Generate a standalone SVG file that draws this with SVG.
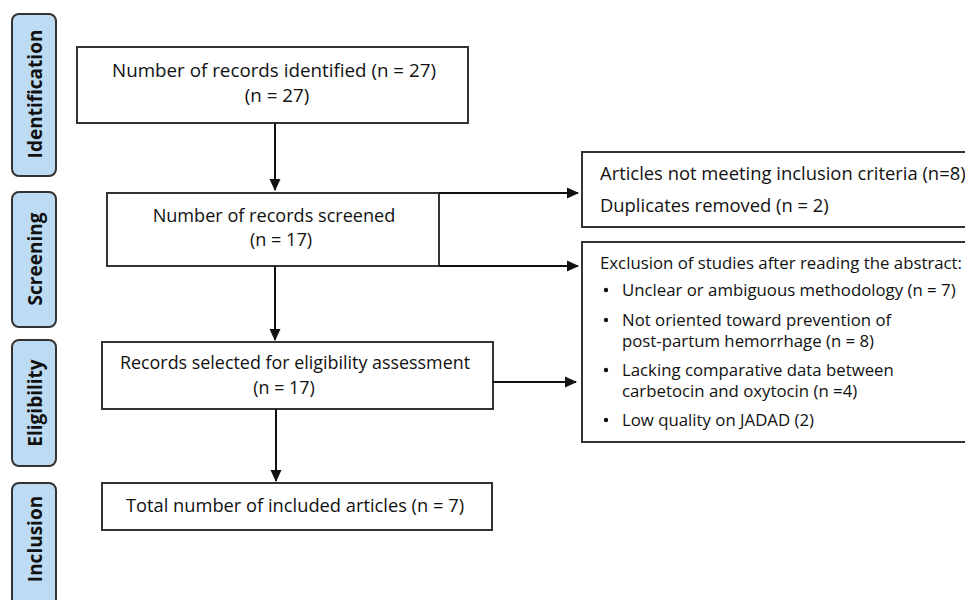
<svg xmlns="http://www.w3.org/2000/svg" width="965" height="600" viewBox="0 0 965 600">
<defs>
<marker id="ah" markerWidth="12" markerHeight="12" refX="11" refY="6" orient="auto" markerUnits="userSpaceOnUse" viewBox="0 0 12 12">
<path d="M0,0.5 L12,6 L0,11.5 z" fill="#111"/>
</marker>
<style>
.box{fill:#fff;stroke:#333;stroke-width:2}
.side{fill:#bddcf3;stroke:#333;stroke-width:2}
.t{font-family:"Open Sans","Liberation Sans",sans-serif;font-size:18.8px;fill:#111}
.r{font-family:"Open Sans","Liberation Sans",sans-serif;font-size:18.4px;fill:#111}
.s{font-family:"Open Sans","Liberation Sans",sans-serif;font-size:16.8px;fill:#111}
.lab{font-family:"Open Sans","Liberation Sans",sans-serif;font-size:19px;font-weight:bold;fill:#111}
.c{stroke:#111;stroke-width:2;fill:none}
</style>
</defs>
<rect width="965" height="600" fill="#fff"/>
<g id="label-identification">
<rect class="side" x="12" y="14" width="44" height="162" rx="7"/>
<text class="lab" transform="translate(42,94) rotate(-90)" text-anchor="middle">Identification</text>
</g>
<g id="label-screening">
<rect class="side" x="12" y="192" width="44" height="135" rx="7"/>
<text class="lab" transform="translate(42,259) rotate(-90)" text-anchor="middle">Screening</text>
</g>
<g id="label-eligibility">
<rect class="side" x="12" y="340" width="44" height="126" rx="7"/>
<text class="lab" transform="translate(42,403) rotate(-90)" text-anchor="middle">Eligibility</text>
</g>
<g id="label-inclusion">
<rect class="side" x="12" y="483" width="44" height="160" rx="7"/>
<text class="lab" transform="translate(42,539) rotate(-90)" text-anchor="middle">Inclusion</text>
</g>
<g id="identified">
<rect class="box" x="77" y="47" width="391" height="76"/>
<text class="t" x="274" y="77" text-anchor="middle">Number of records identified (n = 27)</text>
<text class="t" x="277" y="102" text-anchor="middle">(n = 27)</text>
</g>
<g id="screened">
<rect class="box" x="107" y="193" width="332" height="73"/>
<text class="t" x="274" y="222" text-anchor="middle" style="font-size:18.1px">Number of records screened</text>
<text class="t" x="281" y="246" text-anchor="middle" style="font-size:18.1px">(n = 17)</text>
</g>
<g id="eligibility">
<rect class="box" x="102" y="342" width="391" height="67"/>
<text class="t" x="295" y="369" text-anchor="middle" style="font-size:17.9px">Records selected for eligibility assessment</text>
<text class="t" x="284" y="394" text-anchor="middle" style="font-size:17.9px">(n = 17)</text>
</g>
<g id="included">
<rect class="box" x="102" y="483" width="390" height="47"/>
<text class="t" x="295" y="512" text-anchor="middle" style="font-size:18.3px">Total number of included articles (n = 7)</text>
</g>
<g id="excluded-1">
<rect class="box" x="582" y="152" width="400" height="75"/>
<text class="r" x="600" y="180">Articles not meeting inclusion criteria (n=8)</text>
<text class="r" x="600" y="212">Duplicates removed (n = 2)</text>
</g>
<g id="excluded-2">
<rect class="box" x="582" y="242" width="400" height="200"/>
<text class="s" x="600" y="269">Exclusion of studies after reading the abstract:</text>
<circle cx="606" cy="290" r="2.2" fill="#111"/>
<text class="s" x="622" y="296">Unclear or ambiguous methodology (n = 7)</text>
<circle cx="606" cy="320" r="2.2" fill="#111"/>
<text class="s" x="622" y="326">Not oriented toward prevention of</text>
<text class="s" x="622" y="347">post-partum hemorrhage (n = 8)</text>
<circle cx="606" cy="370" r="2.2" fill="#111"/>
<text class="s" x="622" y="376">Lacking comparative data between</text>
<text class="s" x="622" y="397">carbetocin and oxytocin (n =4)</text>
<circle cx="606" cy="420" r="2.2" fill="#111"/>
<text class="s" x="622" y="426">Low quality on JADAD (2)</text>
</g>
<g id="connectors">
<line class="c" x1="275" y1="123" x2="275" y2="190" marker-end="url(#ah)"/>
<line class="c" x1="275" y1="266" x2="275" y2="340" marker-end="url(#ah)"/>
<line class="c" x1="276" y1="409" x2="276" y2="481" marker-end="url(#ah)"/>
<line class="c" x1="439" y1="193" x2="578" y2="193" marker-end="url(#ah)"/>
<line class="c" x1="439" y1="266" x2="578" y2="266" marker-end="url(#ah)"/>
<line class="c" x1="493" y1="382" x2="576" y2="382" marker-end="url(#ah)"/>
</g>
</svg>
